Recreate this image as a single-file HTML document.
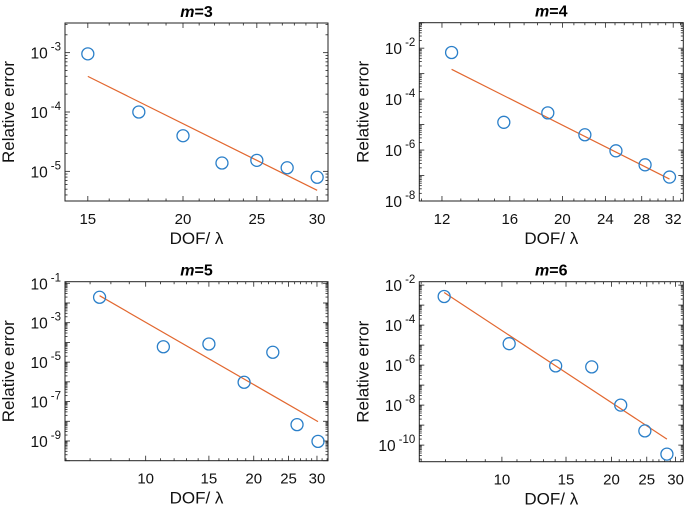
<!DOCTYPE html>
<html><head><meta charset="utf-8"><style>
body{margin:0;background:#fff}
svg{display:block;font-family:"Liberation Sans",Arial,sans-serif}
</style></head><body>
<svg id="c" width="685" height="507" viewBox="0 0 685 507" xmlns="http://www.w3.org/2000/svg"></svg>
<script>
// Data (DOF/lambda, log10 relative error)
const titles = ["3","4","5","6"];
const p1X = [15, 17.5, 20, 22.5, 25, 27.4, 30];
const p1Y = [-3.02, -4.0, -4.4, -4.86, -4.815, -4.94, -5.1];
const p1Fit = [[15, -3.4], [30, -5.32]];
const p2X = [12.5, 15.6, 18.8, 22.0, 25.1, 28.4, 31.5];
const p2Y = [-2.17, -4.91, -4.54, -5.4, -6.03, -6.58, -7.06];
const p2Fit = [[12.5, -2.83], [31.5, -7.14]];
const p3X = [7.44, 11.2, 15, 18.8, 22.6, 26.4, 30.2];
const p3Y = [-1.71, -4.22, -4.08, -6.02, -4.5, -8.17, -9.02];
const p3Fit = [[7.44, -1.63], [30.2, -8.02]];
const p4X = [6.94, 10.47, 14.05, 17.65, 21.2, 24.7, 28.4];
const p4Y = [-2.57, -4.93, -6.04, -6.09, -8.0, -9.29, -10.45];
const p4Fit = [[6.94, -2.37], [28.4, -9.7]];
const p1XTicks = [15, 20, 25, 30];
const p2XTicks = [12, 16, 20, 24, 28, 32];
const p3XTicks = [10, 15, 20, 25, 30];
const p4XTicks = [10, 15, 20, 25, 30];
const p1YTicks = [-5, -4, -3];
const p2YTicks = [-8, -6, -4, -2];
const p3YTicks = [-9, -7, -5, -3, -1];
const p4YTicks = [-10, -8, -6, -4, -2];

const NS = "http://www.w3.org/2000/svg";
const svg = document.getElementById("c");
function mk(tag, attrs, parent){
  const e = document.createElementNS(NS, tag);
  for (const k in attrs) e.setAttribute(k, attrs[k]);
  (parent || svg).appendChild(e);
  return e;
}
const panels = [
  {xs:p1X, ys:p1Y, fit:p1Fit, xt:p1XTicks, yt:p1YTicks, box:[65,23,328,201], xd:[14.0,31.0], yd:[-5.5,-2.5], id:"m3"},
  {xs:p2X, ys:p2Y, fit:p2Fit, xt:p2XTicks, yt:p2YTicks, box:[419.3,22.7,683.3,201], xd:[10.9,33.4], yd:[-8,-1], id:"m4"},
  {xs:p3X, ys:p3Y, fit:p3Fit, xt:p3XTicks, yt:p3YTicks, box:[65,281.7,328,460.7], xd:[5.96,32.2], yd:[-10,-0.92], id:"m5"},
  {xs:p4X, ys:p4Y, fit:p4Fit, xt:p4XTicks, yt:p4YTicks, box:[419.3,281.7,683.3,461.7], xd:[5.93,31.5], yd:[-10.83,-1.83], id:"m6"}
];
panels.forEach((p, i) => {
  const [L,T,R,B] = p.box;
  const g = mk("g", {});
  
  
  const sx = v => L + (Math.log(v) - Math.log(p.xd[0])) / (Math.log(p.xd[1]) - Math.log(p.xd[0])) * (R - L);
  const sy = v => B - (v - p.yd[0]) / (p.yd[1] - p.yd[0]) * (B - T);
  const t = mk("text", {x:(L+R)/2, y:T-6, "text-anchor":"middle", "font-size":"16", "font-weight":"bold"}, g);
  
  
  const ti = mk("tspan", {"font-style":"italic"}, t); ti.textContent = "m";
  const tv = mk("tspan", {}, t); tv.textContent = "=" + titles[i];
  const tk = {stroke:"#222", "stroke-width":"0.8"};
  for (let v = Math.ceil(p.xd[0]); v <= p.xd[1]; v++) {
    const x = sx(v);
    const maj = p.xt.includes(v);
    const len = maj ? 5 : 2.5;
    mk("line", Object.assign({x1:x, x2:x, y1:B, y2:B-len}, tk), g);
    mk("line", Object.assign({x1:x, x2:x, y1:T, y2:T+len}, tk), g);
  }
  p.xt.forEach(v => {
    const lb = mk("text", {x:sx(v), y:B+23, "text-anchor":"middle", "font-size":"15", fill:"#111"}, g);
    
    
    lb.textContent = v;
  });
  for (let d = Math.floor(p.yd[0]); d <= Math.ceil(p.yd[1]); d++) {
    for (let m = 1; m < 10; m++) {
      const v = d + Math.log10(m);
      if (v < p.yd[0] - 1e-6 || v > p.yd[1] + 1e-6) continue;
      const y = sy(v);
      const len = m === 1 ? 5 : 2.5;
      mk("line", Object.assign({x1:L, x2:L+len, y1:y, y2:y}, tk), g);
      mk("line", Object.assign({x1:R, x2:R-len, y1:y, y2:y}, tk), g);
    }
  }
  p.yt.forEach(v => {
    const lb = mk("text", {x:L-4, y:sy(v)+6, "text-anchor":"end", "font-size":"15.5", fill:"#111"}, g);
    
    
    const a = mk("tspan", {}, lb); a.textContent = "10";
    const b = mk("tspan", {dx:"3", dy:"-8", "font-size":"11.5"}, lb); b.textContent = "-" + Math.abs(v);
  });
  const bx = mk("rect", {x:L, y:T, width:R-L, height:B-T, fill:"none", stroke:"#222", "stroke-width":"1"}, g);
  
  
  const yl = mk("text", {transform:`translate(${L-51},${(T+B)/2}) rotate(-90)`, "text-anchor":"middle", "font-size":"17", fill:"#111"}, g);
  
  
  yl.textContent = "Relative error";
  const xl = mk("text", {x:(L+R)/2, y:B+43, "text-anchor":"middle", "font-size":"17", fill:"#111"}, g);
  
  
  xl.textContent = "DOF/ λ";
  const fl = mk("line", {x1:sx(p.fit[0][0]), y1:sy(p.fit[0][1]), x2:sx(p.fit[1][0]), y2:sy(p.fit[1][1]), stroke:"#e2672f", "stroke-width":"1.2"}, g);
  
  
  p.xs.forEach((xv, k) => {
    const c = mk("circle", {cx:sx(xv), cy:sy(p.ys[k]), r:6, fill:"none", stroke:"#2a7fc9", "stroke-width":"1.3"}, g);
    
    
  });
});
</script>
</body></html>
